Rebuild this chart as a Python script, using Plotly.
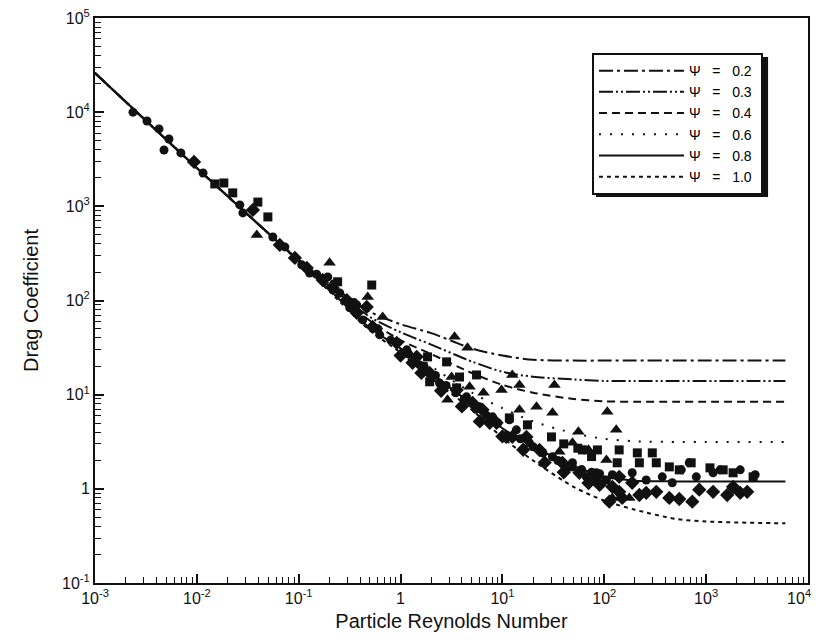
import plotly.graph_objects as go

# ---------------- data ----------------
curve_re = [0.001, 0.01, 0.1, 0.2, 0.5, 1, 2, 5, 10, 20, 50, 100, 200, 500, 1000, 6000]
cd_psi02 = [26000, 2550, 270, 150, 76, 56, 45, 31, 26, 23.5, 23, 23, 23, 23, 23, 23]
cd_psi03 = [26000, 2550, 268, 145, 67, 46, 34, 22.5, 17.5, 15.5, 14.5, 14, 14, 14, 14, 14]
cd_psi04 = [26000, 2550, 266, 140, 61, 38, 27, 17, 12.7, 10.5, 9.0, 8.5, 8.4, 8.4, 8.4, 8.4]
cd_psi06 = [26000, 2550, 264, 135, 55, 34, 20, 10.5, 7.2, 5.2, 3.9, 3.4, 3.2, 3.15, 3.15, 3.15]
cd_psi08 = [26000, 2550, 262, 130, 51, 31, 17, 7.9, 4.4, 2.8, 1.75, 1.35, 1.22, 1.2, 1.2, 1.2]
cd_psi10 = [26000, 2550, 260, 125, 48, 28, 15, 6.9, 3.5, 2.0, 1.05, 0.75, 0.6, 0.48, 0.45, 0.43]

NB = "\u00a0"
psi_labels = [f"Ψ{NB*3}={NB*3}{v}{NB}" for v in ["0.2", "0.3", "0.4", "0.6", "0.8", "1.0"]]

circ_re = [0.00236, 0.00324, 0.00425, 0.00532, 0.00476, 0.00697, 0.0115, 63.8, 570, 48.7, 83.7,
           120, 188, 258, 371, 465, 800, 1170, 683, 1370, 2160, 3030,
           0.0264, 0.0283, 0.0557, 0.0731, 0.107, 0.128, 0.193, 0.253, 0.371, 0.317, 0.425,
           0.624, 1.15, 1.54, 2.41, 4.44, 5.95, 8.0, 11.7, 13.7, 18.4, 31.0, 48.7, 66.7, 105,
           0.15, 0.22, 0.35, 0.6, 0.8, 1.2, 1.7, 2.2, 2.8, 3.5, 4.2, 5.5, 7, 9, 15, 20, 25,
           35, 45, 60, 75, 90]
circ_cd = [10000, 8060, 6640, 5190, 3970, 3690, 2260, 2.59, 1.59, 1.71, 1.48,
           1.41, 1.48, 1.24, 1.34, 1.16, 1.34, 1.48, 1.89, 1.59, 1.59, 1.41,
           1035, 851, 473, 371, 239, 196, 178, 120, 89.8, 83.5, 62.2,
           43.2, 29.9, 20.7, 13.3, 9.48, 7.42, 5.81, 5.40, 4.23, 3.08, 2.19, 1.89, 1.34, 1.24,
           190, 150, 95, 50, 38, 27, 20, 16, 12.5, 10.5, 9, 7, 6, 5, 3.4, 2.8, 2.4,
           2.0, 1.7, 1.6, 1.5, 1.45]

dia_re = [0.00938, 0.0355, 0.0652, 0.0917, 0.120, 0.172, 0.216, 0.296, 0.465, 0.371, 0.532,
          0.917, 1.44, 1.31, 1.93, 3.55, 5.09, 6.38, 8.76, 7.5, 10.9, 12.5, 17.2, 23.1, 38.8,
          57.0, 83.7, 140, 120, 140, 188, 258, 324, 435, 545, 731, 856, 1170, 1610, 1840,
          2160, 2530, 221, 112, 150,
          1.0, 1.6, 2.5, 4, 6, 10, 16, 26, 40, 70, 90]
dia_cd = [2960, 916, 389, 283, 222, 165, 136, 101, 85.5, 73.9, 52.4,
          35.5, 25.2, 21.8, 17.0, 11.2, 8.18, 6.9, 5.02, 5.02, 3.56, 3.56, 3.56, 2.59, 1.89,
          1.48, 1.31, 1.34, 1.05, 0.93, 1.16, 0.907, 0.93, 0.80, 0.78, 0.73, 0.98, 0.93, 0.86, 1.05,
          0.907, 0.93, 0.86, 0.73, 0.80,
          26, 17, 11, 7.5, 5.2, 3.6, 2.6, 1.9, 1.5, 1.15, 1.1]

sq_re = [0.0150, 0.0184, 0.0225, 0.0397, 0.0498, 0.241, 0.521, 1.84, 5.57, 3.79, 3.55, 1.93,
         11.7, 17.6, 30.3, 61, 85.6, 140, 211, 296, 134, 221, 324, 435, 545, 713, 1090,
         1470, 1840, 2890, 2.83, 40, 55, 75]
sq_cd = [1730, 1770, 1390, 1110, 772, 158, 146, 25.2, 16.2, 15.4, 11.8, 13.7,
         5.67, 4.78, 3.56, 2.59, 2.59, 2.59, 2.41, 2.41, 1.89, 1.89, 1.89, 1.71, 1.59, 1.89, 1.67,
         1.59, 1.48, 1.34, 22.3, 3.0, 2.7, 2.2]

tri_re = [0.0388, 0.201, 0.476, 0.667, 3.39, 4.54, 12.5, 14.7, 32.4, 6.52, 3.17, 14.7, 21.6,
          31, 107, 55.7, 131, 48.7, 2.89, 36.2, 105, 120, 176, 9.8, 4.76, 70]
tri_cd = [497, 251, 109, 67, 41.1, 31.4, 16.2, 12.7, 12.7, 10.5, 15.4, 6.9, 7.42,
          6.41, 6.57, 4.03, 4.23, 3.08, 8.81, 2.47, 2.03, 0.80, 0.80, 11.2, 12.1, 2.6]

x_tickvals = [1e-3, 1e-2, 1e-1, 1, 10, 100, 1000, 10000]
x_ticktext = ["10<sup>-3</sup>", "10<sup>-2</sup>", "10<sup>-1</sup>", "1",
              "10<sup>1</sup>", "10<sup>2</sup>", "10<sup>3</sup>",
              "10<sup>4</sup>" + NB * 4]
y_tickvals = [0.1, 1, 10, 100, 1000, 10000, 100000]
y_ticktext = ["10<sup>-1</sup>", "1", "10<sup>1</sup>", "10<sup>2</sup>",
              "10<sup>3</sup>", "10<sup>4</sup>", "10<sup>5</sup>"]

# ---------------- figure ----------------
INK = "#111111"
FONT = "Liberation Sans, Arial, sans-serif"
fig = go.Figure()

curves = [cd_psi02, cd_psi03, cd_psi04, cd_psi06, cd_psi08, cd_psi10]
dashes = ["14px,4px,3px,4px", "14px,3px,2px,3px,2px,3px", "8px,5px",
          "2px,9px", "solid", "4px,4px"]
for lab, cd, dsh in zip(psi_labels, curves, dashes):
    fig.add_trace(go.Scatter(x=curve_re, y=cd, mode="lines", name=lab,
                             line=dict(color=INK, width=2, dash=dsh, shape="spline",
                                       smoothing=0.8)))

marker_sets = [
    (circ_re, circ_cd, "circle", 9),
    (dia_re, dia_cd, "diamond", 11),
    (sq_re, sq_cd, "square", 9),
    (tri_re, tri_cd, "triangle-up", 11),
]
for xs, ys, sym, sz in marker_sets:
    fig.add_trace(go.Scatter(x=xs, y=ys, mode="markers", showlegend=False,
                             marker=dict(symbol=sym, size=sz, color=INK,
                                         line=dict(width=0))))

axis_common = dict(
    type="log", showgrid=False, zeroline=False, automargin=False,
    showline=True, linecolor=INK, linewidth=2, mirror=True,
    ticks="inside", ticklen=9, tickwidth=1.5, tickcolor=INK,
    minor=dict(ticks="inside", ticklen=6, tickwidth=1, tickcolor=INK, dtick="D1", showgrid=False),
    tickfont=dict(family=FONT, size=16, color=INK),
    ticklabeloverflow="allow",
)

# page body has an 8px default margin, so the figure is kept 16px smaller than the window
fig.update_layout(
    width=811, height=624,
    margin=dict(l=87, r=11, t=10, b=49),
    paper_bgcolor="white", plot_bgcolor="white",
    font=dict(family=FONT, color=INK),
    xaxis=dict(range=[-3, 4], tickmode="array", tickvals=x_tickvals, ticktext=x_ticktext,
               title=dict(text="Particle Reynolds Number", font=dict(size=20), standoff=12),
               **axis_common),
    yaxis=dict(range=[-1, 5], tickmode="array", tickvals=y_tickvals, ticktext=y_ticktext,
               title=dict(text="Drag Coefficient", font=dict(size=20), standoff=18),
               **axis_common),
    legend=dict(x=0.697, y=0.938, xanchor="left", yanchor="top",
                bgcolor="white", bordercolor=INK, borderwidth=2,
                font=dict(size=14, color="black"), itemwidth=85,
                tracegroupgap=0),
    showlegend=True,
    shapes=[dict(type="rect", xref="paper", yref="paper",
                 x0=0.7027, x1=0.944, y0=0.683, y1=0.931,
                 fillcolor=INK, line=dict(width=0), layer="below")],
)

fig.write_html("out.html")
